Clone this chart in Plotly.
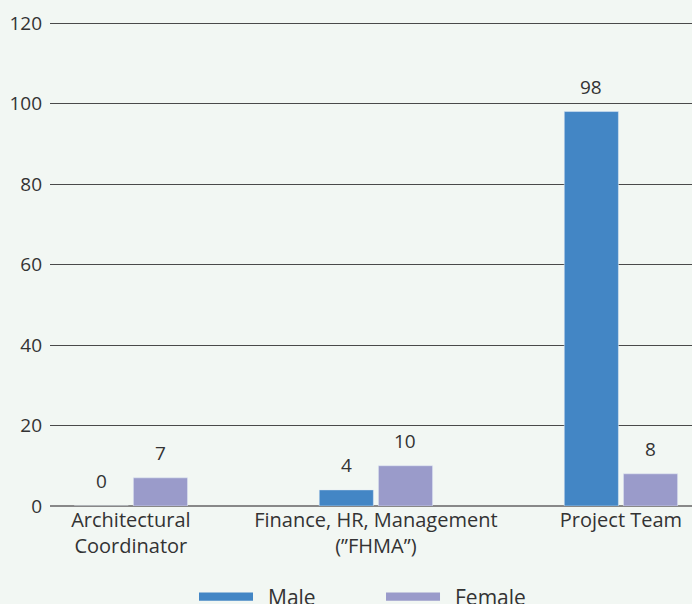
import plotly.graph_objects as go

categories = ["Architectural<br>Coordinator", "Finance, HR, Management<br>(\u201dFHMA\u201d)", "Project Team"]
series_names = ["Male", "Female"]
male = [0, 4, 98]
female = [7, 10, 8]
y_ticks = [0, 20, 40, 60, 80, 100, 120]

BLUE = "#4386c5"
LAV = "#9a9bca"
BG = "#f2f7f3"
TXT = "#333333"
FONT = "Open Sans"

fig = go.Figure()
fig.add_trace(go.Bar(x=categories, y=male, name=series_names[0], marker_color=BLUE,
                     showlegend=False))
fig.add_trace(go.Bar(x=categories, y=female, name=series_names[1], marker_color=LAV,
                     showlegend=False))

# value labels above the bars
annotations = []
for vals, shift in ((male, -29.5), (female, 29.5)):
    for c, v in zip(categories, vals):
        annotations.append(dict(x=c, y=v, xref="x", yref="y", text=str(v), showarrow=False,
                                xshift=shift, yshift=10, yanchor="bottom",
                                font=dict(size=19, color=TXT, family=FONT)))

# legend (wide swatches as in the reference)
legend_items = [(series_names[0], BLUE, 0.2321), (series_names[1], LAV, 0.5234)]
shapes = []
for name, col, x0 in legend_items:
    shapes.append(dict(type="rect", xref="paper", yref="paper", x0=x0, x1=x0 + 0.0841,
                       y0=-0.196, y1=-0.1787, fillcolor=col, line=dict(width=0)))
    annotations.append(dict(x=x0 + 0.105, y=-0.1874, xref="paper", yref="paper", text=name,
                            showarrow=False, xanchor="left", yanchor="middle",
                            font=dict(size=21, color=TXT, family=FONT)))

fig.update_layout(
    width=692, height=604,
    margin=dict(l=50, r=0, t=22, b=98, autoexpand=False),
    paper_bgcolor=BG, plot_bgcolor=BG,
    font=dict(family=FONT, size=19, color=TXT),
    barmode="group", bargap=0.517, bargroupgap=0.085,
    showlegend=False,
    annotations=annotations, shapes=shapes,
    xaxis=dict(type="category", range=[-0.33, 2.29], showgrid=False, showline=False,
               ticks="", tickfont=dict(size=20, color=TXT)),
    yaxis=dict(range=[0, 120.25], tickvals=y_ticks, showgrid=True, gridcolor="#4a4a4a",
               gridwidth=1, zeroline=True, zerolinecolor="#888888", zerolinewidth=1.5,
               ticks="", ticklabelstandoff=7, tickfont=dict(size=19, color=TXT)),
)
fig.write_html("out.html", config={"displayModeBar": False},
               post_script="document.body.style.margin='0';document.body.style.padding='0';")
